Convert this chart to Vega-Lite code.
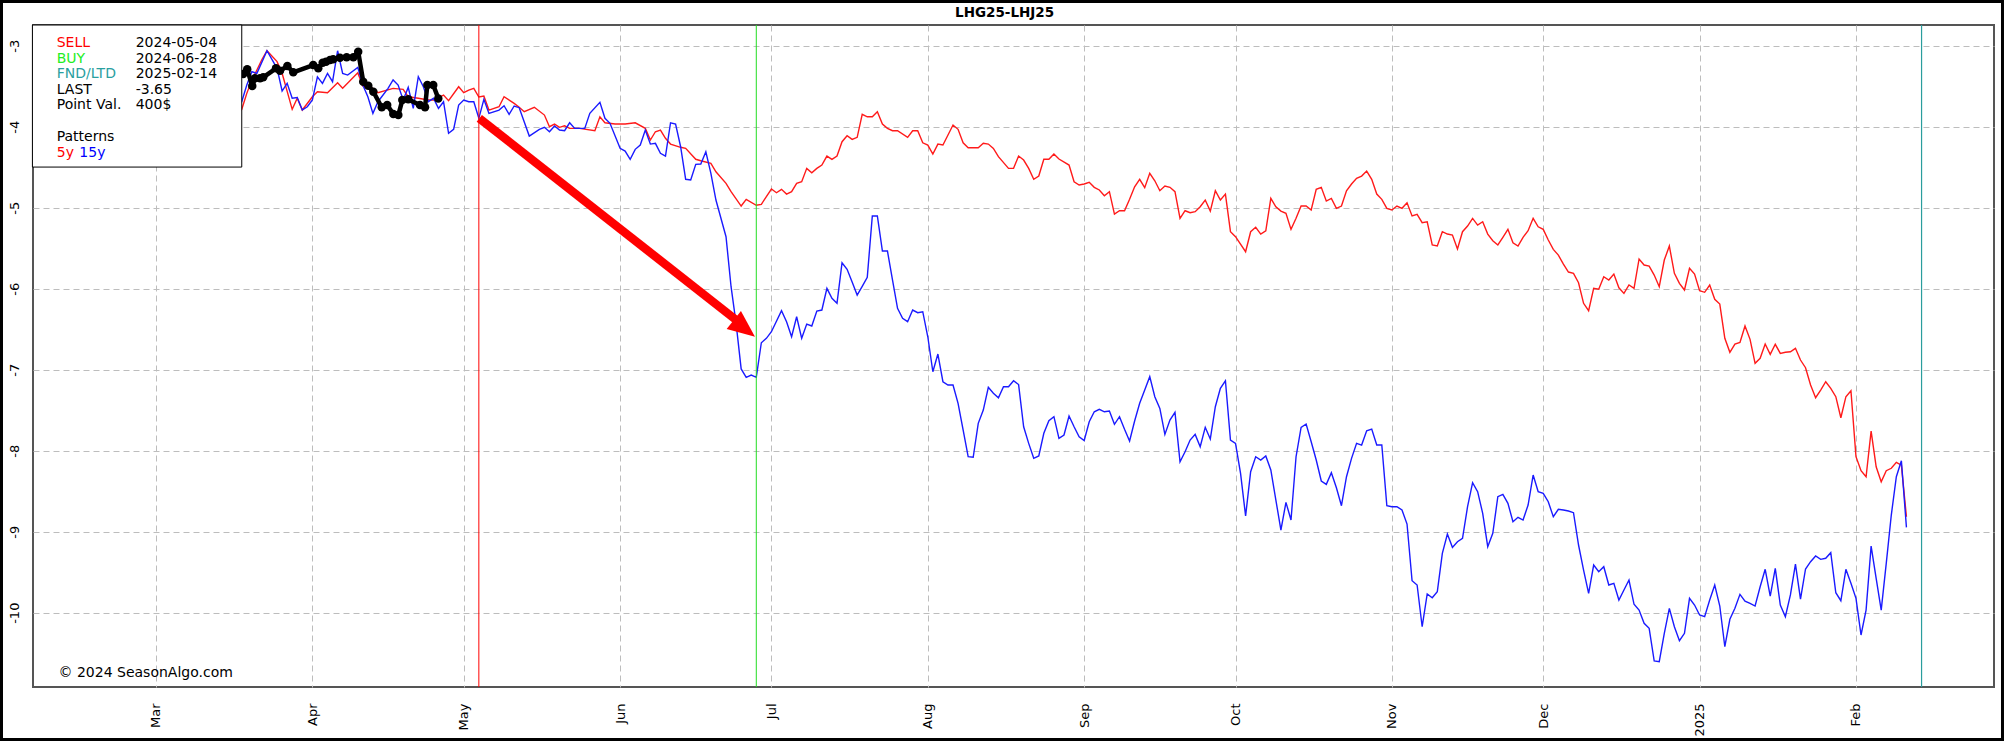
{
  "$schema": "https://vega.github.io/schema/vega-lite/v6.json",
  "width": 1961,
  "height": 662,
  "autosize": {"type": "none"},
  "padding": {"left": 33, "top": 25, "right": 10, "bottom": 54},
  "background": "white",
  "config": {"view": {"stroke": "#555555", "strokeWidth": 2}, "font": "DejaVu Sans"},
  "datasets": {
    "red": [
      {"date":"2024-03-16","v":-3.95},{"date":"2024-03-18","v":-3.785},{"date":"2024-03-19","v":-3.588},{"date":"2024-03-20","v":-3.423},{"date":"2024-03-21","v":-3.30},{"date":"2024-03-22","v":-3.17},{"date":"2024-03-23","v":-3.062},{"date":"2024-03-25","v":-3.196},{"date":"2024-03-26","v":-3.341},{"date":"2024-03-28","v":-3.785},{"date":"2024-03-29","v":-3.649},{"date":"2024-03-30","v":-3.794},{"date":"2024-04-01","v":-3.63},{"date":"2024-04-02","v":-3.568},{"date":"2024-04-04","v":-3.58},{"date":"2024-04-06","v":-3.457},{"date":"2024-04-07","v":-3.526},{"date":"2024-04-10","v":-3.333},{"date":"2024-04-11","v":-3.498},{"date":"2024-04-13","v":-3.526},{"date":"2024-04-14","v":-3.58},{"date":"2024-04-17","v":-3.526},{"date":"2024-04-19","v":-3.538},{"date":"2024-04-20","v":-3.63},{"date":"2024-04-22","v":-3.649},{"date":"2024-04-24","v":-3.67},{"date":"2024-04-25","v":-3.67},{"date":"2024-04-27","v":-3.609},{"date":"2024-04-28","v":-3.679},{"date":"2024-04-30","v":-3.506},{"date":"2024-05-01","v":-3.58},{"date":"2024-05-02","v":-3.547},{"date":"2024-05-03","v":-3.526},{"date":"2024-05-04","v":-3.633},{"date":"2024-05-05","v":-3.621},{"date":"2024-05-06","v":-3.794},{"date":"2024-05-08","v":-3.753},{"date":"2024-05-09","v":-3.63},{"date":"2024-05-11","v":-3.711},{"date":"2024-05-12","v":-3.76},{"date":"2024-05-13","v":-3.815},{"date":"2024-05-15","v":-3.76},{"date":"2024-05-17","v":-3.856},{"date":"2024-05-18","v":-4.0},{"date":"2024-05-19","v":-3.967},{"date":"2024-05-20","v":-4.007},{"date":"2024-05-21","v":-3.988},{"date":"2024-05-22","v":-4.02},{"date":"2024-05-24","v":-4.02},{"date":"2024-05-27","v":-4.049},{"date":"2024-05-28","v":-3.877},{"date":"2024-05-29","v":-3.951},{"date":"2024-05-31","v":-3.967},{"date":"2024-06-02","v":-3.967},{"date":"2024-06-04","v":-3.951},{"date":"2024-06-06","v":-4.02},{"date":"2024-06-07","v":-4.164},{"date":"2024-06-08","v":-4.062},{"date":"2024-06-09","v":-4.041},{"date":"2024-06-10","v":-4.143},{"date":"2024-06-11","v":-4.214},{"date":"2024-06-13","v":-4.254},{"date":"2024-06-14","v":-4.267},{"date":"2024-06-16","v":-4.402},{"date":"2024-06-17","v":-4.42},{"date":"2024-06-19","v":-4.452},{"date":"2024-06-20","v":-4.556},{"date":"2024-06-22","v":-4.699},{"date":"2024-06-23","v":-4.802},{"date":"2024-06-25","v":-4.979},{"date":"2024-06-26","v":-4.896},{"date":"2024-06-28","v":-4.97},{"date":"2024-06-29","v":-4.958},{"date":"2024-06-30","v":-4.864},{"date":"2024-07-01","v":-4.769},{"date":"2024-07-02","v":-4.815},{"date":"2024-07-03","v":-4.773},{"date":"2024-07-04","v":-4.831},{"date":"2024-07-05","v":-4.802},{"date":"2024-07-06","v":-4.699},{"date":"2024-07-07","v":-4.679},{"date":"2024-07-08","v":-4.514},{"date":"2024-07-09","v":-4.568},{"date":"2024-07-10","v":-4.514},{"date":"2024-07-11","v":-4.473},{"date":"2024-07-12","v":-4.362},{"date":"2024-07-13","v":-4.402},{"date":"2024-07-14","v":-4.362},{"date":"2024-07-15","v":-4.185},{"date":"2024-07-16","v":-4.111},{"date":"2024-07-17","v":-4.156},{"date":"2024-07-18","v":-4.131},{"date":"2024-07-19","v":-3.847},{"date":"2024-07-20","v":-3.877},{"date":"2024-07-21","v":-3.877},{"date":"2024-07-22","v":-3.815},{"date":"2024-07-23","v":-3.967},{"date":"2024-07-24","v":-4.02},{"date":"2024-07-25","v":-4.049},{"date":"2024-07-26","v":-4.049},{"date":"2024-07-28","v":-4.131},{"date":"2024-07-29","v":-4.049},{"date":"2024-07-30","v":-4.049},{"date":"2024-07-31","v":-4.198},{"date":"2024-08-01","v":-4.226},{"date":"2024-08-02","v":-4.337},{"date":"2024-08-03","v":-4.214},{"date":"2024-08-04","v":-4.226},{"date":"2024-08-06","v":-3.979},{"date":"2024-08-07","v":-4.032},{"date":"2024-08-08","v":-4.198},{"date":"2024-08-09","v":-4.259},{"date":"2024-08-11","v":-4.259},{"date":"2024-08-12","v":-4.205},{"date":"2024-08-13","v":-4.214},{"date":"2024-08-14","v":-4.267},{"date":"2024-08-15","v":-4.37},{"date":"2024-08-17","v":-4.514},{"date":"2024-08-18","v":-4.514},{"date":"2024-08-19","v":-4.362},{"date":"2024-08-20","v":-4.411},{"date":"2024-08-21","v":-4.514},{"date":"2024-08-22","v":-4.649},{"date":"2024-08-23","v":-4.609},{"date":"2024-08-24","v":-4.402},{"date":"2024-08-25","v":-4.402},{"date":"2024-08-26","v":-4.337},{"date":"2024-08-27","v":-4.399},{"date":"2024-08-29","v":-4.473},{"date":"2024-08-30","v":-4.679},{"date":"2024-08-31","v":-4.72},{"date":"2024-09-01","v":-4.707},{"date":"2024-09-02","v":-4.686},{"date":"2024-09-03","v":-4.748},{"date":"2024-09-04","v":-4.781},{"date":"2024-09-05","v":-4.852},{"date":"2024-09-06","v":-4.802},{"date":"2024-09-07","v":-5.078},{"date":"2024-09-08","v":-5.037},{"date":"2024-09-09","v":-5.037},{"date":"2024-09-10","v":-4.896},{"date":"2024-09-11","v":-4.741},{"date":"2024-09-12","v":-4.649},{"date":"2024-09-13","v":-4.753},{"date":"2024-09-14","v":-4.575},{"date":"2024-09-15","v":-4.667},{"date":"2024-09-16","v":-4.79},{"date":"2024-09-17","v":-4.732},{"date":"2024-09-18","v":-4.748},{"date":"2024-09-19","v":-4.802},{"date":"2024-09-20","v":-5.131},{"date":"2024-09-21","v":-5.037},{"date":"2024-09-22","v":-5.062},{"date":"2024-09-23","v":-5.049},{"date":"2024-09-24","v":-4.988},{"date":"2024-09-25","v":-4.905},{"date":"2024-09-26","v":-5.041},{"date":"2024-09-27","v":-4.79},{"date":"2024-09-28","v":-4.905},{"date":"2024-09-29","v":-4.831},{"date":"2024-09-30","v":-5.296},{"date":"2024-10-01","v":-5.358},{"date":"2024-10-03","v":-5.543},{"date":"2024-10-04","v":-5.296},{"date":"2024-10-05","v":-5.242},{"date":"2024-10-06","v":-5.325},{"date":"2024-10-07","v":-5.284},{"date":"2024-10-08","v":-4.884},{"date":"2024-10-09","v":-4.988},{"date":"2024-10-10","v":-5.041},{"date":"2024-10-11","v":-5.069},{"date":"2024-10-12","v":-5.267},{"date":"2024-10-13","v":-5.131},{"date":"2024-10-14","v":-4.979},{"date":"2024-10-15","v":-4.979},{"date":"2024-10-16","v":-5.028},{"date":"2024-10-17","v":-4.773},{"date":"2024-10-18","v":-4.748},{"date":"2024-10-19","v":-4.917},{"date":"2024-10-20","v":-4.884},{"date":"2024-10-21","v":-5.007},{"date":"2024-10-22","v":-4.979},{"date":"2024-10-23","v":-4.79},{"date":"2024-10-24","v":-4.707},{"date":"2024-10-25","v":-4.637},{"date":"2024-10-26","v":-4.609},{"date":"2024-10-27","v":-4.547},{"date":"2024-10-28","v":-4.649},{"date":"2024-10-29","v":-4.831},{"date":"2024-10-30","v":-4.896},{"date":"2024-10-31","v":-5.007},{"date":"2024-11-01","v":-5.028},{"date":"2024-11-02","v":-4.979},{"date":"2024-11-03","v":-5.007},{"date":"2024-11-04","v":-4.938},{"date":"2024-11-05","v":-5.102},{"date":"2024-11-06","v":-5.081},{"date":"2024-11-07","v":-5.185},{"date":"2024-11-08","v":-5.173},{"date":"2024-11-09","v":-5.46},{"date":"2024-11-10","v":-5.473},{"date":"2024-11-11","v":-5.296},{"date":"2024-11-12","v":-5.325},{"date":"2024-11-13","v":-5.337},{"date":"2024-11-14","v":-5.51},{"date":"2024-11-15","v":-5.296},{"date":"2024-11-16","v":-5.226},{"date":"2024-11-17","v":-5.131},{"date":"2024-11-18","v":-5.214},{"date":"2024-11-19","v":-5.173},{"date":"2024-11-20","v":-5.325},{"date":"2024-11-21","v":-5.407},{"date":"2024-11-22","v":-5.46},{"date":"2024-11-23","v":-5.365},{"date":"2024-11-24","v":-5.267},{"date":"2024-11-25","v":-5.432},{"date":"2024-11-26","v":-5.473},{"date":"2024-11-27","v":-5.365},{"date":"2024-11-28","v":-5.284},{"date":"2024-11-29","v":-5.131},{"date":"2024-11-30","v":-5.235},{"date":"2024-12-01","v":-5.267},{"date":"2024-12-02","v":-5.399},{"date":"2024-12-03","v":-5.514},{"date":"2024-12-04","v":-5.584},{"date":"2024-12-05","v":-5.695},{"date":"2024-12-06","v":-5.794},{"date":"2024-12-07","v":-5.81},{"date":"2024-12-08","v":-5.926},{"date":"2024-12-09","v":-6.18},{"date":"2024-12-10","v":-6.272},{"date":"2024-12-11","v":-5.995},{"date":"2024-12-12","v":-6.007},{"date":"2024-12-13","v":-5.852},{"date":"2024-12-14","v":-5.893},{"date":"2024-12-15","v":-5.819},{"date":"2024-12-16","v":-5.988},{"date":"2024-12-17","v":-6.057},{"date":"2024-12-18","v":-5.954},{"date":"2024-12-19","v":-5.995},{"date":"2024-12-20","v":-5.633},{"date":"2024-12-21","v":-5.707},{"date":"2024-12-22","v":-5.72},{"date":"2024-12-23","v":-5.831},{"date":"2024-12-24","v":-5.975},{"date":"2024-12-25","v":-5.646},{"date":"2024-12-26","v":-5.473},{"date":"2024-12-27","v":-5.81},{"date":"2024-12-28","v":-5.933},{"date":"2024-12-29","v":-6.016},{"date":"2024-12-30","v":-5.748},{"date":"2024-12-31","v":-5.819},{"date":"2025-01-01","v":-6.025},{"date":"2025-01-02","v":-6.044},{"date":"2025-01-03","v":-5.954},{"date":"2025-01-04","v":-6.131},{"date":"2025-01-05","v":-6.189},{"date":"2025-01-06","v":-6.612},{"date":"2025-01-07","v":-6.785},{"date":"2025-01-08","v":-6.683},{"date":"2025-01-09","v":-6.662},{"date":"2025-01-10","v":-6.46},{"date":"2025-01-11","v":-6.625},{"date":"2025-01-12","v":-6.921},{"date":"2025-01-13","v":-6.859},{"date":"2025-01-14","v":-6.683},{"date":"2025-01-15","v":-6.81},{"date":"2025-01-16","v":-6.686},{"date":"2025-01-17","v":-6.798},{"date":"2025-01-18","v":-6.785},{"date":"2025-01-19","v":-6.778},{"date":"2025-01-20","v":-6.736},{"date":"2025-01-21","v":-6.88},{"date":"2025-01-22","v":-6.975},{"date":"2025-01-23","v":-7.189},{"date":"2025-01-24","v":-7.346},{"date":"2025-01-25","v":-7.251},{"date":"2025-01-26","v":-7.148},{"date":"2025-01-27","v":-7.23},{"date":"2025-01-28","v":-7.333},{"date":"2025-01-29","v":-7.593},{"date":"2025-01-30","v":-7.333},{"date":"2025-01-31","v":-7.259},{"date":"2025-02-01","v":-8.074},{"date":"2025-02-02","v":-8.247},{"date":"2025-02-03","v":-8.321},{"date":"2025-02-04","v":-7.757},{"date":"2025-02-05","v":-8.198},{"date":"2025-02-06","v":-8.383},{"date":"2025-02-07","v":-8.247},{"date":"2025-02-08","v":-8.217},{"date":"2025-02-09","v":-8.143},{"date":"2025-02-10","v":-8.177},{"date":"2025-02-11","v":-8.815}
    ],
    "blue": [
      {"date":"2024-03-16","v":-3.85},{"date":"2024-03-18","v":-3.691},{"date":"2024-03-19","v":-3.485},{"date":"2024-03-20","v":-3.321},{"date":"2024-03-21","v":-3.341},{"date":"2024-03-23","v":-3.062},{"date":"2024-03-25","v":-3.279},{"date":"2024-03-26","v":-3.559},{"date":"2024-03-27","v":-3.464},{"date":"2024-03-28","v":-3.649},{"date":"2024-03-29","v":-3.64},{"date":"2024-03-30","v":-3.794},{"date":"2024-03-31","v":-3.753},{"date":"2024-04-01","v":-3.67},{"date":"2024-04-02","v":-3.383},{"date":"2024-04-03","v":-3.464},{"date":"2024-04-04","v":-3.341},{"date":"2024-04-05","v":-3.444},{"date":"2024-04-06","v":-3.062},{"date":"2024-04-07","v":-3.341},{"date":"2024-04-08","v":-3.362},{"date":"2024-04-10","v":-3.267},{"date":"2024-04-11","v":-3.485},{"date":"2024-04-12","v":-3.63},{"date":"2024-04-13","v":-3.835},{"date":"2024-04-14","v":-3.691},{"date":"2024-04-16","v":-3.526},{"date":"2024-04-17","v":-3.423},{"date":"2024-04-18","v":-3.485},{"date":"2024-04-19","v":-3.67},{"date":"2024-04-20","v":-3.514},{"date":"2024-04-21","v":-3.773},{"date":"2024-04-22","v":-3.383},{"date":"2024-04-23","v":-3.506},{"date":"2024-04-24","v":-3.691},{"date":"2024-04-25","v":-3.649},{"date":"2024-04-26","v":-3.773},{"date":"2024-04-27","v":-3.691},{"date":"2024-04-28","v":-4.081},{"date":"2024-04-29","v":-4.032},{"date":"2024-04-30","v":-3.732},{"date":"2024-05-01","v":-3.67},{"date":"2024-05-02","v":-3.691},{"date":"2024-05-03","v":-3.691},{"date":"2024-05-04","v":-3.896},{"date":"2024-05-05","v":-3.662},{"date":"2024-05-06","v":-3.835},{"date":"2024-05-08","v":-3.794},{"date":"2024-05-09","v":-3.741},{"date":"2024-05-10","v":-3.847},{"date":"2024-05-11","v":-3.744},{"date":"2024-05-12","v":-3.765},{"date":"2024-05-14","v":-4.115},{"date":"2024-05-16","v":-4.032},{"date":"2024-05-17","v":-4.007},{"date":"2024-05-18","v":-4.062},{"date":"2024-05-19","v":-3.991},{"date":"2024-05-20","v":-4.041},{"date":"2024-05-21","v":-4.049},{"date":"2024-05-22","v":-3.951},{"date":"2024-05-23","v":-4.02},{"date":"2024-05-25","v":-4.02},{"date":"2024-05-26","v":-3.835},{"date":"2024-05-28","v":-3.699},{"date":"2024-05-29","v":-3.896},{"date":"2024-05-30","v":-3.958},{"date":"2024-06-01","v":-4.267},{"date":"2024-06-02","v":-4.3},{"date":"2024-06-03","v":-4.402},{"date":"2024-06-04","v":-4.279},{"date":"2024-06-05","v":-4.226},{"date":"2024-06-06","v":-4.041},{"date":"2024-06-07","v":-4.214},{"date":"2024-06-08","v":-4.205},{"date":"2024-06-09","v":-4.328},{"date":"2024-06-10","v":-4.362},{"date":"2024-06-11","v":-3.951},{"date":"2024-06-12","v":-3.967},{"date":"2024-06-13","v":-4.247},{"date":"2024-06-14","v":-4.649},{"date":"2024-06-15","v":-4.658},{"date":"2024-06-16","v":-4.464},{"date":"2024-06-17","v":-4.46},{"date":"2024-06-18","v":-4.309},{"date":"2024-06-19","v":-4.575},{"date":"2024-06-20","v":-4.905},{"date":"2024-06-22","v":-5.358},{"date":"2024-06-23","v":-5.975},{"date":"2024-06-24","v":-6.43},{"date":"2024-06-25","v":-6.99},{"date":"2024-06-26","v":-7.094},{"date":"2024-06-27","v":-7.065},{"date":"2024-06-28","v":-7.094},{"date":"2024-06-29","v":-6.667},{"date":"2024-06-30","v":-6.612},{"date":"2024-07-01","v":-6.531},{"date":"2024-07-03","v":-6.272},{"date":"2024-07-04","v":-6.407},{"date":"2024-07-05","v":-6.593},{"date":"2024-07-06","v":-6.346},{"date":"2024-07-07","v":-6.612},{"date":"2024-07-08","v":-6.436},{"date":"2024-07-09","v":-6.46},{"date":"2024-07-10","v":-6.275},{"date":"2024-07-11","v":-6.263},{"date":"2024-07-12","v":-5.995},{"date":"2024-07-13","v":-6.119},{"date":"2024-07-14","v":-6.18},{"date":"2024-07-15","v":-5.679},{"date":"2024-07-16","v":-5.76},{"date":"2024-07-17","v":-5.917},{"date":"2024-07-18","v":-6.078},{"date":"2024-07-19","v":-5.97},{"date":"2024-07-20","v":-5.859},{"date":"2024-07-21","v":-5.102},{"date":"2024-07-22","v":-5.102},{"date":"2024-07-23","v":-5.535},{"date":"2024-07-24","v":-5.535},{"date":"2024-07-25","v":-5.89},{"date":"2024-07-26","v":-6.242},{"date":"2024-07-27","v":-6.365},{"date":"2024-07-28","v":-6.407},{"date":"2024-07-29","v":-6.263},{"date":"2024-07-30","v":-6.296},{"date":"2024-07-31","v":-6.284},{"date":"2024-08-01","v":-6.593},{"date":"2024-08-02","v":-7.025},{"date":"2024-08-03","v":-6.806},{"date":"2024-08-04","v":-7.148},{"date":"2024-08-05","v":-7.189},{"date":"2024-08-06","v":-7.189},{"date":"2024-08-07","v":-7.415},{"date":"2024-08-08","v":-7.744},{"date":"2024-08-09","v":-8.074},{"date":"2024-08-10","v":-8.081},{"date":"2024-08-11","v":-7.662},{"date":"2024-08-12","v":-7.498},{"date":"2024-08-13","v":-7.217},{"date":"2024-08-14","v":-7.291},{"date":"2024-08-15","v":-7.346},{"date":"2024-08-16","v":-7.21},{"date":"2024-08-17","v":-7.21},{"date":"2024-08-18","v":-7.136},{"date":"2024-08-19","v":-7.183},{"date":"2024-08-20","v":-7.704},{"date":"2024-08-21","v":-7.909},{"date":"2024-08-22","v":-8.094},{"date":"2024-08-23","v":-8.065},{"date":"2024-08-24","v":-7.785},{"date":"2024-08-25","v":-7.63},{"date":"2024-08-26","v":-7.58},{"date":"2024-08-27","v":-7.847},{"date":"2024-08-28","v":-7.806},{"date":"2024-08-29","v":-7.572},{"date":"2024-08-30","v":-7.704},{"date":"2024-08-31","v":-7.827},{"date":"2024-09-01","v":-7.874},{"date":"2024-09-02","v":-7.642},{"date":"2024-09-03","v":-7.519},{"date":"2024-09-04","v":-7.489},{"date":"2024-09-05","v":-7.519},{"date":"2024-09-06","v":-7.51},{"date":"2024-09-07","v":-7.674},{"date":"2024-09-08","v":-7.58},{"date":"2024-09-09","v":-7.736},{"date":"2024-09-10","v":-7.88},{"date":"2024-09-11","v":-7.633},{"date":"2024-09-12","v":-7.415},{"date":"2024-09-13","v":-7.251},{"date":"2024-09-14","v":-7.086},{"date":"2024-09-15","v":-7.333},{"date":"2024-09-16","v":-7.477},{"date":"2024-09-17","v":-7.798},{"date":"2024-09-18","v":-7.621},{"date":"2024-09-19","v":-7.526},{"date":"2024-09-20","v":-8.136},{"date":"2024-09-21","v":-8.012},{"date":"2024-09-22","v":-7.868},{"date":"2024-09-23","v":-7.798},{"date":"2024-09-24","v":-7.951},{"date":"2024-09-25","v":-7.711},{"date":"2024-09-26","v":-7.856},{"date":"2024-09-27","v":-7.457},{"date":"2024-09-28","v":-7.23},{"date":"2024-09-29","v":-7.136},{"date":"2024-09-30","v":-7.868},{"date":"2024-10-01","v":-7.909},{"date":"2024-10-02","v":-8.279},{"date":"2024-10-03","v":-8.806},{"date":"2024-10-04","v":-8.259},{"date":"2024-10-05","v":-8.074},{"date":"2024-10-06","v":-8.115},{"date":"2024-10-07","v":-8.065},{"date":"2024-10-08","v":-8.238},{"date":"2024-10-09","v":-8.609},{"date":"2024-10-10","v":-8.979},{"date":"2024-10-11","v":-8.637},{"date":"2024-10-12","v":-8.856},{"date":"2024-10-13","v":-8.074},{"date":"2024-10-14","v":-7.711},{"date":"2024-10-15","v":-7.67},{"date":"2024-10-16","v":-7.889},{"date":"2024-10-17","v":-8.115},{"date":"2024-10-18","v":-8.374},{"date":"2024-10-19","v":-8.415},{"date":"2024-10-20","v":-8.272},{"date":"2024-10-21","v":-8.457},{"date":"2024-10-22","v":-8.679},{"date":"2024-10-23","v":-8.321},{"date":"2024-10-24","v":-8.094},{"date":"2024-10-25","v":-7.909},{"date":"2024-10-26","v":-7.93},{"date":"2024-10-27","v":-7.753},{"date":"2024-10-28","v":-7.732},{"date":"2024-10-29","v":-7.93},{"date":"2024-10-30","v":-7.93},{"date":"2024-10-31","v":-8.679},{"date":"2024-11-01","v":-8.691},{"date":"2024-11-02","v":-8.691},{"date":"2024-11-03","v":-8.732},{"date":"2024-11-04","v":-8.905},{"date":"2024-11-05","v":-9.605},{"date":"2024-11-06","v":-9.658},{"date":"2024-11-07","v":-10.173},{"date":"2024-11-08","v":-9.769},{"date":"2024-11-09","v":-9.815},{"date":"2024-11-10","v":-9.741},{"date":"2024-11-11","v":-9.267},{"date":"2024-11-12","v":-9.028},{"date":"2024-11-13","v":-9.193},{"date":"2024-11-14","v":-9.123},{"date":"2024-11-15","v":-9.081},{"date":"2024-11-16","v":-8.691},{"date":"2024-11-17","v":-8.395},{"date":"2024-11-18","v":-8.506},{"date":"2024-11-19","v":-8.773},{"date":"2024-11-20","v":-9.185},{"date":"2024-11-21","v":-9.02},{"date":"2024-11-22","v":-8.568},{"date":"2024-11-23","v":-8.538},{"date":"2024-11-24","v":-8.649},{"date":"2024-11-25","v":-8.877},{"date":"2024-11-26","v":-8.822},{"date":"2024-11-27","v":-8.856},{"date":"2024-11-28","v":-8.67},{"date":"2024-11-29","v":-8.3},{"date":"2024-11-30","v":-8.506},{"date":"2024-12-01","v":-8.526},{"date":"2024-12-02","v":-8.63},{"date":"2024-12-03","v":-8.815},{"date":"2024-12-04","v":-8.723},{"date":"2024-12-05","v":-8.732},{"date":"2024-12-06","v":-8.744},{"date":"2024-12-07","v":-8.765},{"date":"2024-12-08","v":-9.164},{"date":"2024-12-09","v":-9.473},{"date":"2024-12-10","v":-9.76},{"date":"2024-12-11","v":-9.411},{"date":"2024-12-12","v":-9.494},{"date":"2024-12-13","v":-9.432},{"date":"2024-12-14","v":-9.658},{"date":"2024-12-15","v":-9.637},{"date":"2024-12-16","v":-9.843},{"date":"2024-12-17","v":-9.72},{"date":"2024-12-18","v":-9.596},{"date":"2024-12-19","v":-9.896},{"date":"2024-12-20","v":-9.967},{"date":"2024-12-21","v":-10.131},{"date":"2024-12-22","v":-10.193},{"date":"2024-12-23","v":-10.596},{"date":"2024-12-24","v":-10.605},{"date":"2024-12-25","v":-10.254},{"date":"2024-12-26","v":-9.946},{"date":"2024-12-27","v":-10.173},{"date":"2024-12-28","v":-10.346},{"date":"2024-12-29","v":-10.254},{"date":"2024-12-30","v":-9.822},{"date":"2024-12-31","v":-9.905},{"date":"2025-01-01","v":-10.028},{"date":"2025-01-02","v":-10.049},{"date":"2025-01-03","v":-9.843},{"date":"2025-01-04","v":-9.658},{"date":"2025-01-05","v":-9.917},{"date":"2025-01-06","v":-10.42},{"date":"2025-01-07","v":-10.081},{"date":"2025-01-08","v":-9.946},{"date":"2025-01-09","v":-9.773},{"date":"2025-01-10","v":-9.856},{"date":"2025-01-11","v":-9.884},{"date":"2025-01-12","v":-9.917},{"date":"2025-01-13","v":-9.679},{"date":"2025-01-14","v":-9.464},{"date":"2025-01-15","v":-9.794},{"date":"2025-01-16","v":-9.452},{"date":"2025-01-17","v":-9.905},{"date":"2025-01-18","v":-10.049},{"date":"2025-01-19","v":-9.781},{"date":"2025-01-20","v":-9.399},{"date":"2025-01-21","v":-9.831},{"date":"2025-01-22","v":-9.46},{"date":"2025-01-23","v":-9.37},{"date":"2025-01-24","v":-9.3},{"date":"2025-01-25","v":-9.341},{"date":"2025-01-26","v":-9.328},{"date":"2025-01-27","v":-9.259},{"date":"2025-01-28","v":-9.753},{"date":"2025-01-29","v":-9.852},{"date":"2025-01-30","v":-9.464},{"date":"2025-01-31","v":-9.637},{"date":"2025-02-01","v":-9.822},{"date":"2025-02-02","v":-10.275},{"date":"2025-02-03","v":-9.967},{"date":"2025-02-04","v":-9.177},{"date":"2025-02-05","v":-9.575},{"date":"2025-02-06","v":-9.967},{"date":"2025-02-07","v":-9.39},{"date":"2025-02-08","v":-8.794},{"date":"2025-02-09","v":-8.321},{"date":"2025-02-10","v":-8.123},{"date":"2025-02-11","v":-8.946}
    ],
    "cur": [
      {"date":"2024-03-16T12:00:00Z","v":-3.36},{"date":"2024-03-18T07:00:00Z","v":-3.349},{"date":"2024-03-19T02:00:00Z","v":-3.291},{"date":"2024-03-20T02:00:00Z","v":-3.498},{"date":"2024-03-20T15:00:00Z","v":-3.402},{"date":"2024-03-21T15:00:00Z","v":-3.402},{"date":"2024-03-22T06:00:00Z","v":-3.39},{"date":"2024-03-24T19:00:00Z","v":-3.279},{"date":"2024-03-25T14:00:00Z","v":-3.309},{"date":"2024-03-27T01:00:00Z","v":-3.251},{"date":"2024-03-28T05:00:00Z","v":-3.328},{"date":"2024-04-01T04:00:00Z","v":-3.238},{"date":"2024-04-02T04:00:00Z","v":-3.279},{"date":"2024-04-03T01:00:00Z","v":-3.21},{"date":"2024-04-03T17:00:00Z","v":-3.198},{"date":"2024-04-04T12:00:00Z","v":-3.177},{"date":"2024-04-05T03:00:00Z","v":-3.168},{"date":"2024-04-06T11:00:00Z","v":-3.148},{"date":"2024-04-07T19:00:00Z","v":-3.143},{"date":"2024-04-09T03:00:00Z","v":-3.143},{"date":"2024-04-10T02:00:00Z","v":-3.074},{"date":"2024-04-11T02:00:00Z","v":-3.444},{"date":"2024-04-12T02:00:00Z","v":-3.494},{"date":"2024-04-13T02:00:00Z","v":-3.568},{"date":"2024-04-14T18:00:00Z","v":-3.76},{"date":"2024-04-15T20:00:00Z","v":-3.732},{"date":"2024-04-17T01:00:00Z","v":-3.843},{"date":"2024-04-18T01:00:00Z","v":-3.856},{"date":"2024-04-18T20:00:00Z","v":-3.67},{"date":"2024-04-20T00:00:00Z","v":-3.662},{"date":"2024-04-22T08:00:00Z","v":-3.732},{"date":"2024-04-23T08:00:00Z","v":-3.76},{"date":"2024-04-23T19:00:00Z","v":-3.485},{"date":"2024-04-24T23:00:00Z","v":-3.485},{"date":"2024-04-25T23:00:00Z","v":-3.65}
    ]
  },
  "layer": [
    {
      "data": {"name": "red"},
      "mark": {"type": "line", "color": "#ff1a1a", "strokeWidth": 1.4},
      "encoding": {
        "x": {
          "field": "date", "type": "temporal",
          "scale": {"type": "utc", "nice": false, "domain": [{"year": 2024, "month": 2, "date": 5, "hours": 14, "minutes": 49, "utc": true}, {"year": 2025, "month": 2, "date": 28, "hours": 8, "minutes": 38, "utc": true}]},
          "axis": {
            "title": null,
            "values": [{"year": 2024, "month": 3, "date": 1, "utc": true}, {"year": 2024, "month": 4, "date": 1, "utc": true}, {"year": 2024, "month": 5, "date": 1, "utc": true}, {"year": 2024, "month": 6, "date": 1, "utc": true}, {"year": 2024, "month": 7, "date": 1, "utc": true}, {"year": 2024, "month": 8, "date": 1, "utc": true}, {"year": 2024, "month": 9, "date": 1, "utc": true}, {"year": 2024, "month": 10, "date": 1, "utc": true}, {"year": 2024, "month": 11, "date": 1, "utc": true}, {"year": 2024, "month": 12, "date": 1, "utc": true}, {"year": 2025, "month": 1, "date": 1, "utc": true}, {"year": 2025, "month": 2, "date": 1, "utc": true}],
            "labelExpr": "utcmonth(datum.value) == 0 ? utcFormat(datum.value, '%Y') : utcFormat(datum.value, '%b')",
            "labelAngle": 270, "labelAlign": "right", "labelBaseline": "middle", "labelPadding": 16,
            "labelFont": "DejaVu Sans", "labelFontSize": 13, "labelColor": "#000000",
            "labelOverlap": false, "labelFlush": false,
            "ticks": false, "tickSize": 0, "domain": false,
            "grid": true, "gridColor": "#bdbdbd", "gridDash": [6, 4], "gridWidth": 1
          }
        },
        "y": {
          "field": "v", "type": "quantitative",
          "scale": {"domain": [-10.917, -2.744], "nice": false, "zero": false},
          "axis": {
            "title": null,
            "values": [-3, -4, -5, -6, -7, -8, -9, -10],
            "labelExpr": "'-' + format(abs(datum.value), 'd')",
            "labelAngle": 270, "labelAlign": "center", "labelBaseline": "alphabetic", "labelPadding": 15,
            "labelFont": "DejaVu Sans", "labelFontSize": 13, "labelColor": "#000000",
            "labelOverlap": false, "labelFlush": false,
            "ticks": false, "tickSize": 0, "domain": false,
            "grid": true, "gridColor": "#bdbdbd", "gridDash": [6, 4], "gridWidth": 1
          }
        }
      }
    },
    {
      "data": {"name": "blue"},
      "mark": {"type": "line", "color": "#1a1aff", "strokeWidth": 1.4},
      "encoding": {"x": {"field": "date", "type": "temporal"}, "y": {"field": "v", "type": "quantitative"}}
    },
    {
      "data": {"values": [{"date": "2024-05-04"}]},
      "mark": {"type": "rule", "color": "#ff0000", "strokeWidth": 1},
      "encoding": {"x": {"field": "date", "type": "temporal"}}
    },
    {
      "data": {"values": [{"date": "2024-06-28"}]},
      "mark": {"type": "rule", "color": "#22dd22", "strokeWidth": 1},
      "encoding": {"x": {"field": "date", "type": "temporal"}}
    },
    {
      "data": {"values": [{"date": "2025-02-14"}]},
      "mark": {"type": "rule", "color": "#2a9d9d", "strokeWidth": 1.2},
      "encoding": {"x": {"field": "date", "type": "temporal"}}
    },
    {
      "data": {"name": "cur"},
      "mark": {"type": "line", "color": "#000000", "strokeWidth": 4.5, "strokeJoin": "round"},
      "encoding": {"x": {"field": "date", "type": "temporal"}, "y": {"field": "v", "type": "quantitative"}}
    },
    {
      "data": {"name": "cur"},
      "mark": {"type": "circle", "color": "#000000", "size": 72, "opacity": 1},
      "encoding": {"x": {"field": "date", "type": "temporal"}, "y": {"field": "v", "type": "quantitative"}}
    },
    {
      "data": {"values": [{"date": "2024-05-04T02:10:00Z", "v": -3.896}, {"date": "2024-06-24T18:30:00Z", "v": -6.423}]},
      "mark": {"type": "line", "color": "#ff0000", "strokeWidth": 8.5, "strokeCap": "butt"},
      "encoding": {"x": {"field": "date", "type": "temporal"}, "y": {"field": "v", "type": "quantitative"}}
    },
    {
      "data": {"values": [{"date": "2024-06-25T15:22:00Z", "v": -6.489}]},
      "mark": {"type": "point", "shape": "M-1,-0.85L1,0L-1,0.85Z", "size": 729, "angle": 38.4, "filled": true, "color": "#ff0000", "opacity": 1, "strokeWidth": 0},
      "encoding": {"x": {"field": "date", "type": "temporal"}, "y": {"field": "v", "type": "quantitative"}}
    },
    {
      "data": {"values": [{"date": "2024-02-05T12:00:00Z", "date2": "2024-03-18T00:00:00Z", "v": -2.744, "v2": -4.498}]},
      "mark": {"type": "rect", "fill": "#ffffff", "stroke": "#000000", "strokeWidth": 1},
      "encoding": {"x": {"field": "date", "type": "temporal"}, "x2": {"field": "date2"}, "y": {"field": "v", "type": "quantitative"}, "y2": {"field": "v2"}}
    },
    {
      "data": {"values": [
        {"date": "2024-02-25T23:25:00Z", "v": -3.02, "t": "2024-05-04"},
        {"date": "2024-02-25T23:25:00Z", "v": -3.21, "t": "2024-06-28"},
        {"date": "2024-02-25T23:25:00Z", "v": -3.395, "t": "2025-02-14"},
        {"date": "2024-02-10T07:40:00Z", "v": -3.59, "t": "LAST"},
        {"date": "2024-02-25T23:25:00Z", "v": -3.59, "t": "-3.65"},
        {"date": "2024-02-10T07:40:00Z", "v": -3.785, "t": "Point Val."},
        {"date": "2024-02-25T23:25:00Z", "v": -3.785, "t": "400$"},
        {"date": "2024-02-10T07:40:00Z", "v": -4.177, "t": "Patterns"}
      ]},
      "mark": {"type": "text", "align": "left", "baseline": "alphabetic", "font": "DejaVu Sans", "fontSize": 14, "color": "#000000"},
      "encoding": {"x": {"field": "date", "type": "temporal"}, "y": {"field": "v", "type": "quantitative"}, "text": {"field": "t"}}
    },
    {
      "data": {"values": [{"date": "2024-02-10T07:40:00Z", "v": -3.02, "t": "SELL"}, {"date": "2024-02-10T07:40:00Z", "v": -4.37, "t": "5y"}]},
      "mark": {"type": "text", "align": "left", "baseline": "alphabetic", "font": "DejaVu Sans", "fontSize": 14, "color": "#ff0000"},
      "encoding": {"x": {"field": "date", "type": "temporal"}, "y": {"field": "v", "type": "quantitative"}, "text": {"field": "t"}}
    },
    {
      "data": {"values": [{"date": "2024-02-10T07:40:00Z", "v": -3.21, "t": "BUY"}]},
      "mark": {"type": "text", "align": "left", "baseline": "alphabetic", "font": "DejaVu Sans", "fontSize": 14, "color": "#22ee22"},
      "encoding": {"x": {"field": "date", "type": "temporal"}, "y": {"field": "v", "type": "quantitative"}, "text": {"field": "t"}}
    },
    {
      "data": {"values": [{"date": "2024-02-10T07:40:00Z", "v": -3.395, "t": "FND/LTD"}]},
      "mark": {"type": "text", "align": "left", "baseline": "alphabetic", "font": "DejaVu Sans", "fontSize": 14, "color": "#2aa0a0"},
      "encoding": {"x": {"field": "date", "type": "temporal"}, "y": {"field": "v", "type": "quantitative"}, "text": {"field": "t"}}
    },
    {
      "data": {"values": [{"date": "2024-02-14T19:12:00Z", "v": -4.37, "t": "15y"}]},
      "mark": {"type": "text", "align": "left", "baseline": "alphabetic", "font": "DejaVu Sans", "fontSize": 14, "color": "#0000ff"},
      "encoding": {"x": {"field": "date", "type": "temporal"}, "y": {"field": "v", "type": "quantitative"}, "text": {"field": "t"}}
    },
    {
      "data": {"values": [{"date": "2024-02-10T16:05:00Z", "v": -10.79, "t": "© 2024 SeasonAlgo.com"}]},
      "mark": {"type": "text", "align": "left", "baseline": "alphabetic", "font": "DejaVu Sans", "fontSize": 14, "color": "#000000"},
      "encoding": {"x": {"field": "date", "type": "temporal"}, "y": {"field": "v", "type": "quantitative"}, "text": {"field": "t"}}
    },
    {
      "data": {"values": [{"date": "2024-08-16T05:17:00Z", "v": -2.594, "t": "LHG25-LHJ25"}]},
      "mark": {"type": "text", "align": "center", "baseline": "middle", "font": "DejaVu Sans", "fontSize": 13.5, "fontWeight": "bold", "color": "#000000"},
      "encoding": {"x": {"field": "date", "type": "temporal"}, "y": {"field": "v", "type": "quantitative"}, "text": {"field": "t"}}
    },
    {
      "data": {"values": [{"date": "2024-01-30T08:56:00Z", "date2": "2025-03-02T01:00:00Z", "v": -2.454, "v2": -11.565}]},
      "mark": {"type": "rect", "fill": "#ffffff", "fillOpacity": 0, "stroke": "#000000", "strokeWidth": 3},
      "encoding": {"x": {"field": "date", "type": "temporal"}, "x2": {"field": "date2"}, "y": {"field": "v", "type": "quantitative"}, "y2": {"field": "v2"}}
    }
  ]
}
